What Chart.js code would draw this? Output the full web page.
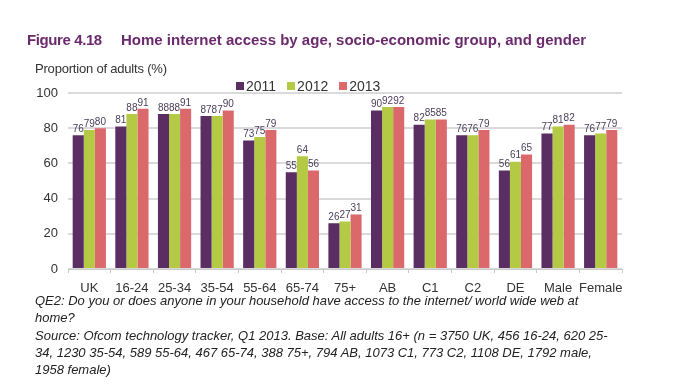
<!DOCTYPE html>
<html>
<head>
<meta charset="utf-8">
<script src="https://cdn.jsdelivr.net/npm/chart.js@4/dist/chart.umd.min.js"></script>
<style>
  html, body { margin: 0; padding: 0; background: #fff; }
  body { width: 695px; height: 387px; position: relative; overflow: hidden; font-family: "Liberation Sans", Arial, sans-serif; }
  #wrap { position: absolute; left: 0; top: 0; width: 695px; height: 387px; }
  .title { position: absolute; left: 27px; top: 31px; font-size: 15px; font-weight: bold; color: #6b2a6d; white-space: nowrap; }
  .title span { margin-right: 15px; letter-spacing: -0.4px; }
  .ytitle { position: absolute; left: 35px; top: 61px; font-size: 13px; color: #333; letter-spacing: -0.2px; }
  #legend { position: absolute; left: 236px; top: 78px; font-size: 14px; color: #333; display: flex; }
  #legend .item { display: flex; align-items: center; margin-right: 11px; }
  #legend .box { width: 8px; height: 8px; margin-right: 2px; }
  .note { position: absolute; left: 35px; top: 292px; font-size: 13px; font-style: italic; color: #222; line-height: 17.3px; white-space: nowrap; }
</style>
</head>
<body>
<div id="wrap"><canvas id="chart" width="695" height="387"></canvas></div>
<div class="title"><span>Figure 4.18</span> Home internet access by age, socio-economic group, and gender</div>
<div class="ytitle">Proportion of adults (%)</div>
<div id="legend"></div>
<div class="note">QE2: Do you or does anyone in your household have access to the internet/ world wide web at<br>home?<br>Source: Ofcom technology tracker, Q1 2013. Base: All adults 16+ (n = 3750 UK, 456 16-24, 620 25-<br>34, 1230 35-54, 589 55-64, 467 65-74, 388 75+, 794 AB, 1073 C1, 773 C2, 1108 DE, 1792 male,<br>1958 female)</div>
<script>
const categories = ['UK', '16-24', '25-34', '35-54', '55-64', '65-74', '75+', 'AB', 'C1', 'C2', 'DE', 'Male', 'Female'];
const years = ['2011', '2012', '2013'];
const values2011 = [76, 81, 88, 87, 73, 55, 26, 90, 82, 76, 56, 77, 76];
const values2012 = [79, 88, 88, 87, 75, 64, 27, 92, 85, 76, 61, 81, 77];
const values2013 = [80, 91, 91, 90, 79, 56, 31, 92, 85, 79, 65, 82, 79];
const yTicks = [0, 20, 40, 60, 80, 100];

const colors = ['#5a2e62', '#b4c944', '#db696c'];
const font = '"Liberation Sans", Arial, sans-serif';

// numbers sitting on top of every bar
const barLabels = {
  id: 'barLabels',
  afterDatasetsDraw(chart) {
    let ctx = chart.ctx;
    ctx.save();
    ctx.font = '10px ' + font;
    ctx.fillStyle = '#4a3d58';
    ctx.textAlign = 'center';
    ctx.textBaseline = 'bottom';
    chart.data.datasets.forEach((ds, i) => {
      chart.getDatasetMeta(i).data.forEach((bar, j) => {
        ctx.fillText(ds.data[j], bar.x, bar.y - 1);
      });
    });
    ctx.restore();
  }
};

const chart = new Chart(document.getElementById('chart'), {
  type: 'bar',
  data: {
    labels: categories,
    datasets: [values2011, values2012, values2013].map((d, i) => ({
      label: years[i],
      data: d,
      backgroundColor: colors[i],
      borderWidth: 0,
      categoryPercentage: 0.78,
      barPercentage: 1.0
    }))
  },
  options: {
    responsive: false,
    animation: false,
    layout: { padding: { left: 0, right: 73, top: 93, bottom: 0 } },
    plugins: { legend: { display: false }, tooltip: { enabled: false } },
    scales: {
      x: {
        grid: { display: true, drawOnChartArea: false, tickLength: 4, color: '#c8c8c8' },
        border: { display: true, color: '#c8c8c8', width: 1 },
        ticks: { color: '#333', font: { family: font, size: 13 }, padding: 8, maxRotation: 0, minRotation: 0, autoSkip: false },
        afterFit(s) { s.height = 118; }
      },
      y: {
        min: 0, max: 100,
        afterBuildTicks(s) { s.ticks = yTicks.map(v => ({ value: v })); },
        grid: { color: '#dadada', lineWidth: 2, drawTicks: false },
        border: { display: false },
        ticks: { color: '#333', font: { family: font, size: 13 }, padding: 10 },
        afterFit(s) { s.width = 68; }
      }
    }
  },
  plugins: [barLabels]
});

// html legend built from the chart datasets
document.getElementById('legend').innerHTML = chart.data.datasets.map(ds =>
  '<div class="item"><div class="box" style="background:' + ds.backgroundColor + '"></div>' + ds.label + '</div>'
).join('');
</script>
</body>
</html>
